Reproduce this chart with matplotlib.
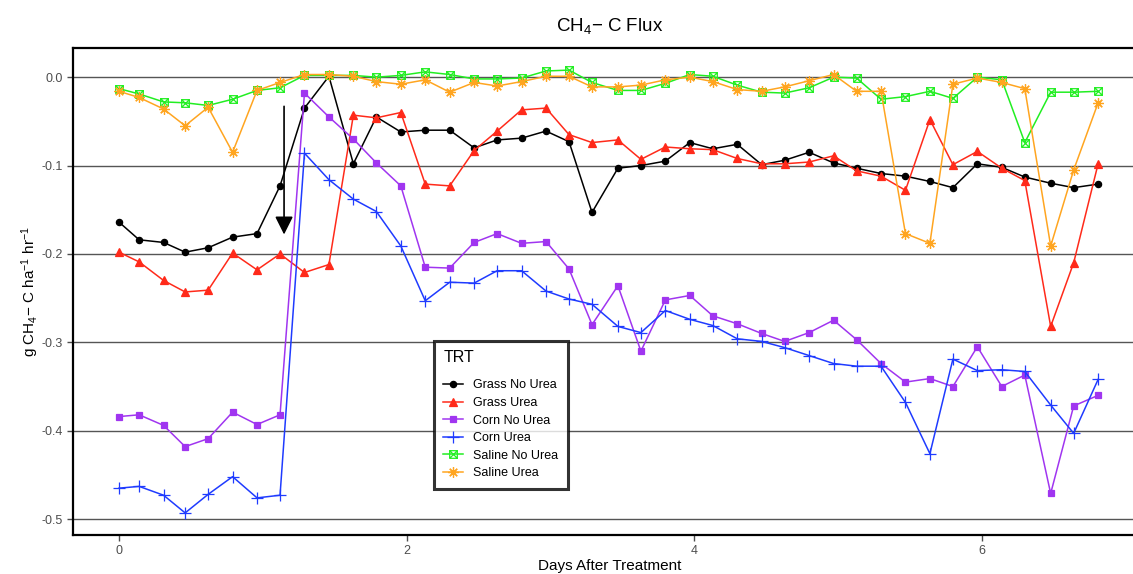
import numpy as np
import matplotlib
matplotlib.use("Agg")
import matplotlib.pyplot as plt
from matplotlib.path import Path
from matplotlib.ticker import FuncFormatter

plt.rcParams['font.family'] = ['Liberation Sans', 'DejaVu Sans']
plt.rcParams['mathtext.default'] = 'regular'

# sampling times (days after treatment)
days = [0, 0.14, 0.31, 0.46, 0.62, 0.79, 0.96, 1.12, 1.29, 1.46, 1.63, 1.79, 1.96, 2.13,
        2.30, 2.47, 2.63, 2.80, 2.97, 3.13, 3.29, 3.47, 3.63, 3.80, 3.97, 4.13, 4.30, 4.47,
        4.63, 4.80, 4.97, 5.13, 5.30, 5.47, 5.64, 5.80, 5.97, 6.14, 6.30, 6.48, 6.64, 6.81]

grass_no_urea = [-0.164, -0.184, -0.187, -0.198, -0.193, -0.181, -0.177, -0.123, -0.035, 0.001,
                 -0.098, -0.045, -0.062, -0.060, -0.060, -0.080, -0.071, -0.069, -0.061, -0.073,
                 -0.153, -0.103, -0.100, -0.095, -0.074, -0.081, -0.076, -0.099, -0.094, -0.085,
                 -0.097, -0.103, -0.109, -0.112, -0.118, -0.125, -0.098, -0.102, -0.113, -0.120,
                 -0.125, -0.121]
grass_urea = [-0.198, -0.209, -0.230, -0.243, -0.241, -0.199, -0.218, -0.200, -0.221, -0.212,
              -0.043, -0.046, -0.040, -0.121, -0.123, -0.083, -0.061, -0.037, -0.035, -0.065,
              -0.074, -0.071, -0.093, -0.079, -0.081, -0.082, -0.092, -0.098, -0.098, -0.096,
              -0.089, -0.106, -0.112, -0.128, -0.048, -0.099, -0.084, -0.103, -0.117, -0.282,
              -0.210, -0.098]
corn_no_urea = [-0.384, -0.382, -0.394, -0.418, -0.409, -0.379, -0.393, -0.382, -0.018, -0.045,
                -0.070, -0.097, -0.123, -0.215, -0.216, -0.187, -0.177, -0.188, -0.186, -0.217,
                -0.280, -0.236, -0.310, -0.252, -0.247, -0.270, -0.279, -0.290, -0.299, -0.289,
                -0.275, -0.297, -0.324, -0.345, -0.341, -0.350, -0.305, -0.350, -0.337, -0.471,
                -0.372, -0.360]
corn_urea = [-0.465, -0.463, -0.473, -0.493, -0.472, -0.452, -0.476, -0.473, -0.086, -0.116,
             -0.138, -0.152, -0.191, -0.253, -0.232, -0.233, -0.219, -0.219, -0.242, -0.251,
             -0.257, -0.282, -0.289, -0.264, -0.274, -0.281, -0.296, -0.299, -0.306, -0.315,
             -0.324, -0.327, -0.327, -0.368, -0.426, -0.319, -0.332, -0.331, -0.333, -0.371,
             -0.403, -0.342]
saline_no_urea = [-0.013, -0.019, -0.028, -0.029, -0.032, -0.025, -0.015, -0.012, 0.002, 0.002,
                  0.002, 0.000, 0.002, 0.006, 0.003, -0.002, -0.002, -0.001, 0.007, 0.008,
                  -0.006, -0.015, -0.015, -0.007, 0.003, 0.001, -0.009, -0.017, -0.018, -0.012,
                  0.000, -0.001, -0.025, -0.022, -0.016, -0.024, 0.000, -0.003, -0.074, -0.017,
                  -0.017, -0.016]
saline_urea = [-0.016, -0.023, -0.036, -0.055, -0.034, -0.085, -0.015, -0.006, 0.003, 0.003,
               0.001, -0.005, -0.008, -0.003, -0.017, -0.006, -0.010, -0.005, 0.001, 0.001,
               -0.011, -0.011, -0.009, -0.003, 0.000, -0.005, -0.014, -0.016, -0.011, -0.004,
               0.003, -0.016, -0.016, -0.177, -0.188, -0.008, -0.001, -0.006, -0.013, -0.191,
               -0.105, -0.029]

# square with an x inside (R pch 7)
box_x = Path([(-1, -1), (1, -1), (1, 1), (-1, 1), (-1, -1), (-1, -1), (1, 1), (-1, 1), (1, -1)],
             [Path.MOVETO, Path.LINETO, Path.LINETO, Path.LINETO, Path.LINETO,
              Path.MOVETO, Path.LINETO, Path.MOVETO, Path.LINETO])

series = [
    ("Grass No Urea", grass_no_urea, "black", "o", 4.5, True),
    ("Grass Urea", grass_urea, "#FF2A1A", "^", 5.5, True),
    ("Corn No Urea", corn_no_urea, "#A035F0", "s", 4.5, True),
    ("Corn Urea", corn_urea, "#1F3BFF", "+", 8, True),
    ("Saline No Urea", saline_no_urea, "#22EE22", box_x, 5.5, False),
    ("Saline Urea", saline_urea, "#FFA520", (8, 2, 0), 7.5, True),
]

fig = plt.figure(figsize=(11.33, 5.74), dpi=100)
ax = fig.add_axes([73 / 1133, 39 / 574, 1074 / 1133, 487 / 574])

for name, vals, col, mk, ms, filled in series:
    ax.plot(days, vals, color=col, lw=1.1, marker=mk, markersize=ms,
            markerfacecolor=col if filled else 'none', markeredgecolor=col,
            markeredgewidth=0.9, label=name)

ax.annotate('', xy=(1.148, -0.178), xytext=(1.148, -0.033),
            arrowprops=dict(arrowstyle='-|>,head_length=1.1,head_width=0.55',
                            color='black', lw=1.2, shrinkA=0, shrinkB=0))

ax.set_xlim(-0.32, 7.15)
ax.set_ylim(-0.518, 0.033)
ax.set_xticks([0, 2, 4, 6])
ax.set_yticks([0.0, -0.1, -0.2, -0.3, -0.4, -0.5])
ax.yaxis.set_major_formatter(FuncFormatter(lambda v, p: "%.1f" % v))
ax.tick_params(colors='#4d4d4d', labelsize=9, length=4, width=1)
ax.yaxis.grid(True, color='#555555', lw=1.0)
ax.set_axisbelow(True)
for s in ['left', 'top', 'bottom']:
    ax.spines[s].set_linewidth(1.6)
    ax.spines[s].set_color('black')
ax.spines['right'].set_visible(False)

ax.set_title('CH$_4$− C Flux', fontsize=13.5, pad=12)
ax.set_ylabel('g CH$_4$− C ha$^{-1}$ hr$^{-1}$', fontsize=11, labelpad=0)
ax.set_xlabel('Days After Treatment', fontsize=11, labelpad=1)

leg = ax.legend(title='TRT', loc='upper left', bbox_to_anchor=(434 / 1133, 1 - 341 / 574),
                bbox_transform=fig.transFigure, borderaxespad=0, fontsize=9,
                title_fontsize=11.5, frameon=True, fancybox=False, edgecolor='black',
                handlelength=1.6, labelspacing=0.45, borderpad=0.75, handletextpad=0.8)
leg._legend_box.align = 'left'
leg._legend_box.sep = 10
leg.get_frame().set_linewidth(2.2)

fig.savefig('out.png', dpi=100)
